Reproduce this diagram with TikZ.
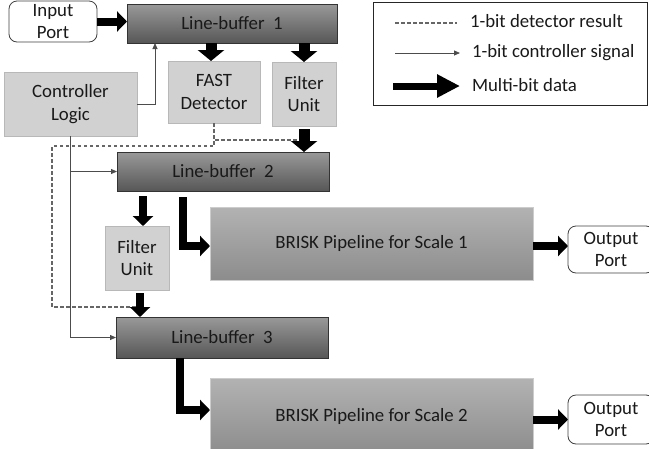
\documentclass[tikz,border=0pt]{standalone}
\usepackage{fontspec}
\setmainfont{Carlito}
\usetikzlibrary{arrows.meta,calc}
\begin{document}
\begin{tikzpicture}[x=1pt,y=-1pt,
  font=\fontsize{18.8}{22.5}\selectfont,
  every node/.style={inner sep=0pt, outer sep=0pt, align=center, text=black!90},
  box/.style={anchor=north west, draw, line width=0.8pt},
  lbuf/.style={box, draw=black!80, top color=black!40, bottom color=black!66},
  pipe/.style={box, draw=black!20, top color=black!30, bottom color=black!45},
  unit/.style={box, draw=black!28, fill=black!18},
  port/.style={box, draw=black!75, fill=white, rounded corners=8pt},
  fat/.style={line width=8pt, miter limit=10, -{Triangle[width=20pt,length=10pt]}},
  fatter/.style={line width=11pt, -{Triangle[width=26pt,length=11pt]}},
  legfat/.style={line width=7pt, -{Triangle[width=22pt,length=23pt]}},
  ctl/.style={line width=0.8pt, draw=black!70, -{Triangle[width=5pt,length=6pt]}},
  det/.style={line width=1.1pt, draw=black!60, dash pattern=on 3.5pt off 2.5pt},
]
\useasboundingbox (0,0) rectangle (649,448);

% blocks
\node[port, minimum width=88pt, minimum height=41pt] (inp) at (9,1) {Input\\Port};
\node[lbuf, minimum width=210pt, minimum height=39pt] (lb1) at (127,4) {Line-buffer~~1};
\node[unit, minimum width=92pt, minimum height=62pt] (fast) at (168,61) {FAST\\Detector};
\node[unit, minimum width=64pt, minimum height=64pt] (fu1) at (272,62) {Filter\\Unit};
\node[unit, minimum width=133pt, minimum height=64pt] (ctrl) at (4,72) {Controller\\Logic};
\node[lbuf, minimum width=212pt, minimum height=39pt] (lb2) at (117,152) {Line-buffer~~2};
\node[unit, minimum width=64pt, minimum height=64pt] (fu2) at (105,226) {Filter\\Unit};
\node[pipe, minimum width=323pt, minimum height=73pt] (bp1) at (210,207) {BRISK Pipeline for Scale 1};
\node[port, minimum width=86pt, minimum height=47pt] (op1) at (568,226) {Output\\Port};
\node[lbuf, minimum width=212pt, minimum height=41pt] (lb3) at (116,317) {Line-buffer~~3};
\node[pipe, minimum width=323pt, minimum height=76pt] (bp2) at (210,378) {BRISK Pipeline for Scale 2};
\node[port, minimum width=86pt, minimum height=49pt] (op2) at (568,395) {Output\\Port};

% helper points for arrow columns
\path (fast.north) ++(-3,0) coordinate (fastin);
\path (fu2.north) ++(6,0) coordinate (fu2in);
\path (fu2.south) ++(3,0) coordinate (fu2out);
\path (bp1.east) ++(0,2.5) coordinate (bp1out);
\coordinate (dashturn) at (52,307);

% 1-bit detector result
\draw[det] (fast.south) |- ($(fu1.south)+(0,14)$);
\draw[det] (fast.south) -- ($(fast.south)+(0,23)$) -| (dashturn) -- (fu2out |- dashturn);

% 1-bit controller signals
\draw[ctl] (ctrl.east) -| ($(lb1.south west)+(28,0)$);
\draw[ctl] (ctrl.south) |- (lb3.west);
\draw[ctl] (ctrl.south |- lb2.west) -- (lb2.west);

% multi-bit data
\draw[fat] (inp.east) -- (inp.east -| lb1.west);
\draw[fatter] (fastin |- lb1.south) -- (fastin);
\draw[fatter] (fu1.north |- lb1.south) -- (fu1.north);
\draw[fatter, shorten <=3pt] (fu1.south) -- (fu1.south |- lb2.north);
\draw[fat, shorten <=5pt] (fu2in |- lb2.south) -- (fu2in);
\draw[fat, shorten <=3pt] (fu2out) -- (fu2out |- lb3.north);
\draw[fat] ($(lb2.south west)+(66,6)$) |- ($(bp1.west)+(0,2.5)$);
\draw[fat] ($(lb3.south west)+(63.5,0)$) |- ($(bp2.west)+(0,-6)$);
\draw[fat] (bp1out) -- (bp1out -| op1.west);
\draw[fat] (op2.west -| bp2.east) -- (op2.west);

% legend
\node[box, draw=black!85, line width=1pt, minimum width=274pt, minimum height=103pt] (leg) at (373,2) {};
\coordinate (l1a) at (395,23);
\coordinate (l1b) at (457,23);
\coordinate (l2a) at (395,53);
\coordinate (l2b) at (460,53);
\coordinate (l3a) at (393,86);
\coordinate (l3b) at (460,86);
\draw[det] (l1a) -- (l1b);
\draw[ctl] (l2a) -- (l2b);
\draw[legfat] (l3a) -- (l3b);
\node[anchor=base west] (t1) at (470,27) {1-bit detector result};
\node[anchor=base west] (t2) at (472,57) {1-bit controller signal};
\node[anchor=base west] (t3) at (472,91) {Multi-bit data};
\end{tikzpicture}
\end{document}
